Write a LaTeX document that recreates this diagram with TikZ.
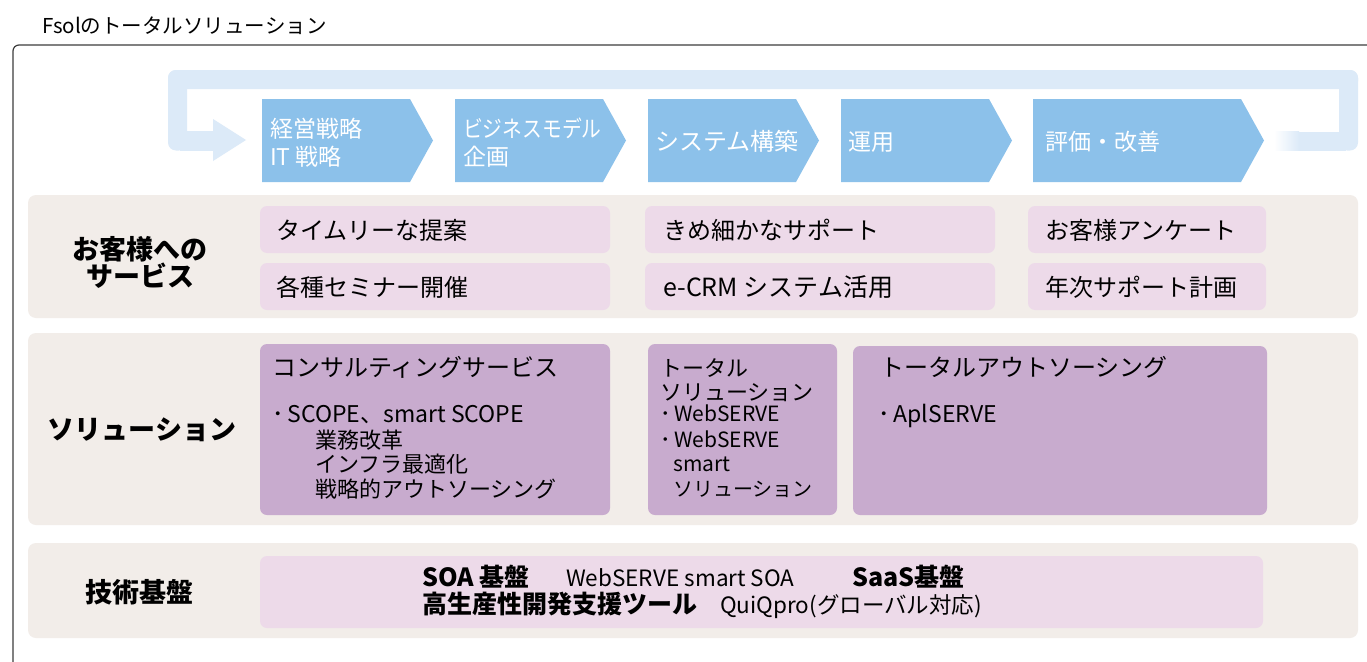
\documentclass[tikz,border=0pt]{standalone}
\usepackage{fontspec}
\setmainfont{Noto Sans CJK JP}
\definecolor{loopblue}{HTML}{DCEAF8}
\definecolor{chev}{HTML}{8CC1EA}
\definecolor{bandc}{HTML}{F2EDE9}
\definecolor{pinkbox}{HTML}{EDDAE9}
\definecolor{purplebox}{HTML}{C8ABCE}
\definecolor{framec}{HTML}{3C3C3C}
\newcommand{\fsz}[1]{\fontsize{#1}{#1}\selectfont}
\tikzset{
  txt/.style={anchor=base west, inner sep=0pt, text=black},
  chevtxt/.style={txt, text=white, font=\fsz{23}},
  lbl/.style={anchor=center, inner sep=0pt, align=center, font=\fsz{27}\bfseries, text=black},
  svc/.style={txt, font=\fsz{24}},
  body/.style={txt, font=\fsz{22}},
  small/.style={txt, font=\fsz{21}},
  techb/.style={txt, font=\fsz{25}\bfseries},
  techr/.style={txt, font=\fsz{22.5}},
  bandbox/.style={fill=bandc, rounded corners=8},
  pbox/.style={fill=pinkbox, rounded corners=7},
  ubox/.style={fill=purplebox, rounded corners=7},
  chevshape/.style={fill=chev}
}
\begin{document}
\begin{tikzpicture}[x=1pt,y=-1pt]
\useasboundingbox (0,0) rectangle (1367,661);
\clip (0,0) rectangle (1367,661);
\fill[white] (0,0) rectangle (1367,661);

% title
\node[txt, font=\fsz{20.5}] (title) at (42,34) {Fsolのトータルソリューション};

% frame
\draw[framec, line width=1.2pt, rounded corners=6] (13,720) -- (13,45) -- (1420,45);

% loop arrow
\fill[loopblue, rounded corners=8] (168,70) rectangle (1358,89);
\fill[loopblue, rounded corners=8] (168,70) rectangle (187,150.5);
\fill[loopblue] (180,131) rectangle (214,150.5);
\fill[loopblue] (213,119) -- (246,140) -- (213,161) -- cycle;
\fill[loopblue, rounded corners=8] (1339,70) rectangle (1358,150.5);
\shade[left color=white, right color=loopblue] (1274,131.5) rectangle (1299,150.5);
\fill[loopblue] (1298.5,131.5) rectangle (1346,150.5);

% chevrons
\foreach \x/\w in {262/148, 455/148, 648/148, 841/148, 1033/208}{
  \fill[chevshape] (\x,99) -- (\x+\w,99) -- (\x+\w+23,140.5) -- (\x+\w,182) -- (\x,182) -- cycle;
}
\node[chevtxt] (c1a) at (270,137) {経営戦略};
\node[chevtxt] (c1b) at (270,165) {IT 戦略};
\node[chevtxt] (c2a) at (463,137) {\scalebox{0.86}[1]{ビジネスモデル}};
\node[chevtxt] (c2b) at (463,165) {企画};
\node[chevtxt, font=\fsz{24}] (c3) at (655,150) {システム構築};
\node[chevtxt] (c4) at (848,150) {運用};
\node[chevtxt] (c5) at (1045,150) {評価・改善};

% bands
\fill[bandbox] (28,195) rectangle (1358,318);
\fill[bandbox] (28,333) rectangle (1358,525);
\fill[bandbox] (28,543) rectangle (1358,638);

% labels
\node[lbl] (l1) at (140,262) {お客様への\\[0pt]サービス};
\node[lbl] (l2) at (142,430) {ソリューション};
\node[lbl] (l3) at (139,592) {技術基盤};

% services boxes
\fill[pbox] (260,206) rectangle (610,253);
\fill[pbox] (260,263) rectangle (610,310);
\fill[pbox] (645,206) rectangle (995,253);
\fill[pbox] (645,263) rectangle (995,310);
\fill[pbox] (1028,206) rectangle (1266,253);
\fill[pbox] (1028,263) rectangle (1266,310);
\node[svc] (s1) at (276,239) {タイムリーな提案};
\node[svc] (s2) at (276,296) {各種セミナー開催};
\node[svc] (s3) at (663,239) {きめ細かなサポート};
\node[svc, font=\fsz{25}] (s4) at (663,296) {e-CRM システム活用};
\node[svc] (s5) at (1045,239) {お客様アンケート};
\node[svc] (s6) at (1045,296) {年次サポート計画};

% solution boxes
\fill[ubox] (260,344) rectangle (610,515);
\fill[ubox] (648,344) rectangle (837,515);
\fill[ubox] (853,346) rectangle (1267,515);
\node[svc] (a0) at (272,376) {コンサルティングサービス};
\node[body, font=\fsz{23}] (a1) at (272,422) {･\,SCOPE、smart SCOPE};
\node[body] (a2) at (315,448) {業務改革};
\node[body] (a3) at (315,472) {インフラ最適化};
\node[body] (a4) at (315,497) {戦略的アウトソーシング};

\node[body] (b0) at (660,376) {トータル};
\node[body] (b1) at (660,400) {ソリューション};
\node[small] (b2) at (660,421) {･\,WebSERVE};
\node[small] (b3) at (660,447) {･\,WebSERVE};
\node[small] (b4) at (673,471) {smart};
\node[small, font=\fsz{20}] (b5) at (673,496) {ソリューション};

\node[svc] (c0) at (880,376) {トータルアウトソーシング};
\node[body, font=\fsz{23}] (c1) at (878,422) {･\,AplSERVE};

% tech box
\fill[pbox] (260,556) rectangle (1263,628);
\node[techb] (t1) at (422,586) {SOA 基盤};
\node[techr] (t2) at (566,586) {WebSERVE smart SOA};
\node[techb] (t3) at (852,586) {SaaS基盤};
\node[techb] (t4) at (422,613) {高生産性開発支援ツール};
\node[techr] (t5) at (720,613) {QuiQpro(グローバル対応)};
\end{tikzpicture}
\end{document}
